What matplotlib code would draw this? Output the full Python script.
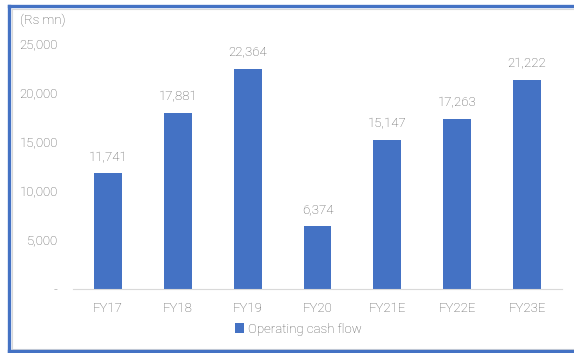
import matplotlib.pyplot as plt
from matplotlib.lines import Line2D

years = ['FY17', 'FY18', 'FY19', 'FY20', 'FY21E', 'FY22E', 'FY23E']
cash_flow = [11741, 17881, 22364, 6374, 15147, 17263, 21222]
yticks = [0, 5000, 10000, 15000, 20000, 25000]
ytick_labels = ['-', '5,000', '10,000', '15,000', '20,000', '25,000']

blue = '#4472C4'
grey = '#595959'
plt.rcParams['font.family'] = ['Roboto', 'DejaVu Sans']
plt.rcParams['font.weight'] = 'light'

W, H = 574, 353
fig = plt.figure(figsize=(W / 100, H / 100), dpi=100)
ax = fig.add_axes([73 / W, 1 - 289 / H, (562 - 73) / W, (289 - 43) / H])

x = range(len(years))
ax.bar(x, cash_flow, width=0.4, color=blue, label='Operating cash flow')
for xi, v in zip(x, cash_flow):
    ax.annotate(f'{v:,}', (xi, v), xytext=(0, 7.5), textcoords='offset points',
                ha='center', va='bottom', fontsize=9.5, color=grey)

ax.set_xlim(-0.5, len(years) - 0.5)
ax.set_ylim(0, 25000)
ax.set_xticks(list(x))
ax.set_xticklabels(years, fontsize=9.5, color=grey)
ax.set_yticks(yticks)
ax.set_yticklabels(ytick_labels, fontsize=9.5, color=grey)
ax.tick_params(axis='x', length=0, pad=9)
ax.tick_params(axis='y', length=0, pad=11)
for s in ['top', 'right', 'left']:
    ax.spines[s].set_visible(False)
ax.spines['bottom'].set_color('#d9d9d9')

fig.text(20 / W, 1 - 20 / H, '(Rs mn)', fontsize=9.5, color=grey, va='center')
fig.legend(loc='center', bbox_to_anchor=(298 / W, 1 - 329 / H), frameon=False,
           fontsize=9.5, handlelength=0.7, handleheight=0.7, handletextpad=0.3,
           labelcolor=grey)

# frame around the chart (right side cut off)
def px_line(xs, ys, color, lw):
    fig.add_artist(Line2D([a / W for a in xs], [1 - b / H for b in ys],
                          transform=fig.transFigure, color=color, lw=lw))

px_line([11.5, 574], [8.5, 8.5], '#d9d9d9', 0.8)
px_line([11.5, 11.5], [8.5, 348.5], '#d9d9d9', 0.8)
px_line([11.5, 574], [348.5, 348.5], '#d9d9d9', 0.8)
px_line([8.5, 574], [5.5, 5.5], blue, 2.4)
px_line([8.5, 8.5], [5.5, 351], blue, 2.4)
px_line([8.5, 574], [351, 351], blue, 2.4)

fig.savefig('out.png', dpi=100)
